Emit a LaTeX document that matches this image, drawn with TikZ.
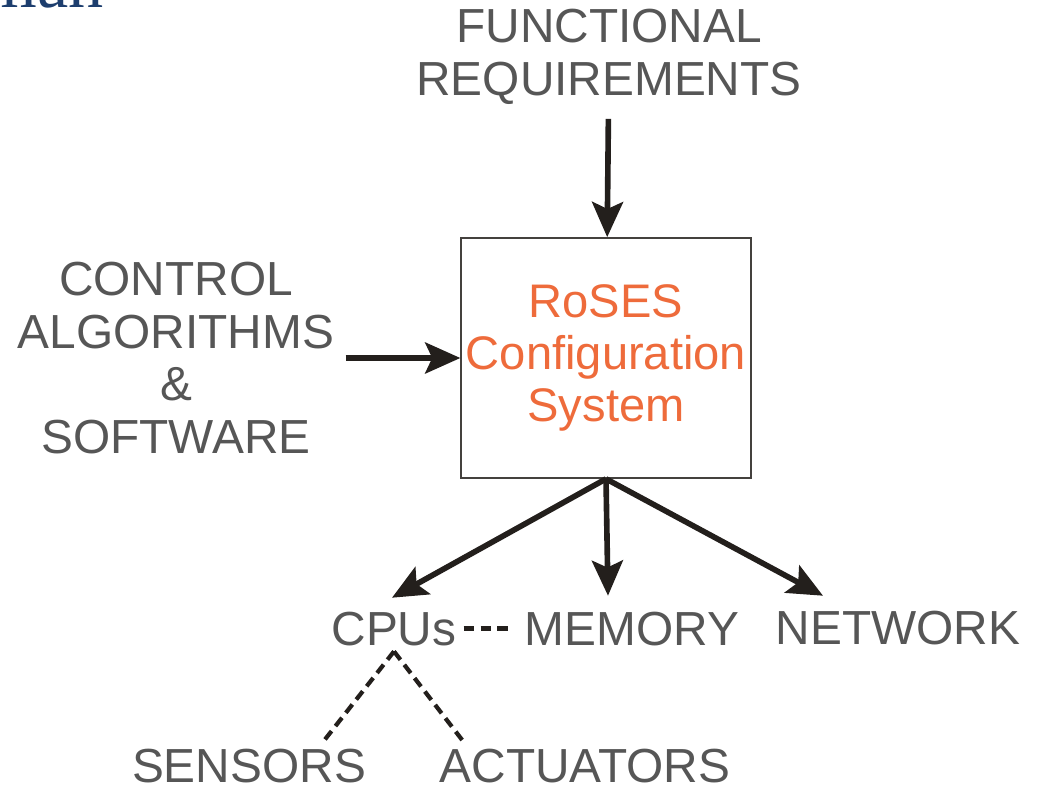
\documentclass[tikz,border=0pt]{standalone}
\usepackage{fontspec}
\setmainfont{Liberation Sans}
\newfontfamily\hdrfont{Liberation Serif}
\usetikzlibrary{arrows.meta, calc}
\definecolor{txtgray}{HTML}{565656}
\definecolor{rosesorange}{HTML}{EE6B3B}
\definecolor{arrowdark}{HTML}{231F1C}
\definecolor{hdrnavy}{HTML}{1D3E6E}
\tikzstyle{txt} = [text=txtgray, align=center, inner sep=4pt, font=\fontsize{34}{37.5}\selectfont]
\tikzstyle{cfgbox} = [rectangle, minimum width=7.2cm, minimum height=6cm, text centered, align=center, draw=arrowdark!85, line width=1.2pt, text=rosesorange, font=\fontsize{33.5}{37}\selectfont]
\tikzstyle{arrow} = [arrowdark, line width=4pt, -{Stealth[length=25pt, width=22pt, inset=5pt]}]
\tikzstyle{dashline} = [arrowdark, line width=3pt, dash pattern=on 7.5pt off 4.5pt]

\begin{document}
\begin{tikzpicture}[x=0.025cm, y=-0.025cm]
\path[use as bounding box, clip] (0,0) rectangle (1040,791);
\node[text=hdrnavy, anchor=base east, inner sep=0, font=\hdrfont\fontsize{50}{60}\selectfont] (hdr) at (104,7) {man};
\node[txt] (req) at (609,57) {FUNCTIONAL\\REQUIREMENTS};
\node[txt] (ctrl) at (176,358) {CONTROL\\ALGORITHMS\\\&\\SOFTWARE};
\node[cfgbox] (roses) at (606,358) {RoSES\\Configuration\\System};
\node[txt, anchor=base] (cpu) at (394,645) {CPUs};
\node[txt, anchor=base] (mem) at (632,645) {MEMORY};
\node[txt, anchor=base] (net) at (898,644) {NETWORK};
\node[txt, anchor=base, inner ysep=1pt] (sen) at (249,782) {SENSORS};
\node[txt, anchor=base, inner ysep=1pt] (act) at (585,782) {ACTUATORS};
% inputs
\draw[arrow, shorten <=6pt] (req) -- (roses);
\draw[arrow, shorten <=4pt] (ctrl) -- (roses);
% outputs
\draw[arrow] (roses.south) -- ($(cpu.north)+(-2,-8)$);
\draw[arrow] (roses.south) -- ($(mem.north)+(-24,-10)$);
\draw[arrow] (roses.south) -- ($(net.north)+(-75,-9)$);
\draw[dashline, shorten <=1pt, shorten >=8pt] (cpu.east) -- (mem.west);
\draw[dashline] (cpu.south) -- ($(sen.north east)+(-48,-6)$);
\draw[dashline] (cpu.south) -- ($(act.north west)+(29,-6)$);
\end{tikzpicture}
\end{document}
